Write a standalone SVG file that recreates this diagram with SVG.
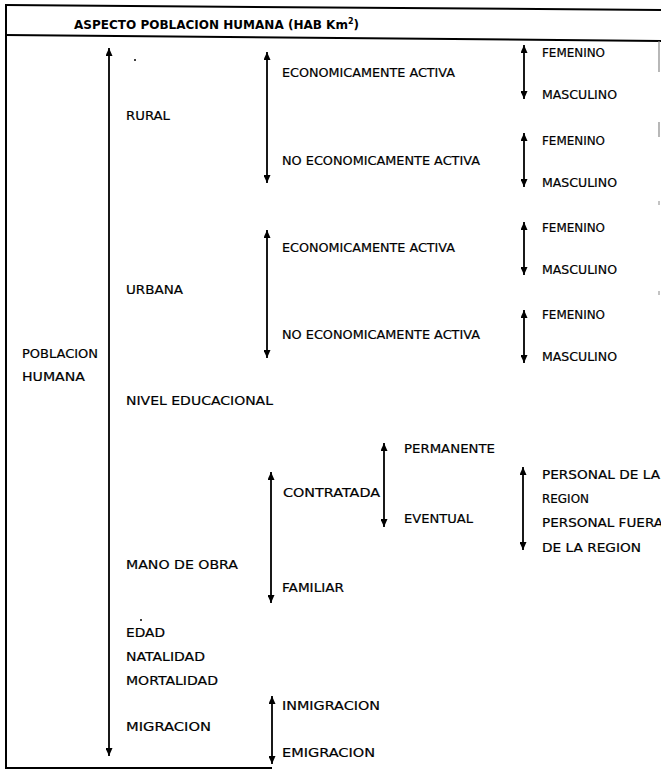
<svg xmlns="http://www.w3.org/2000/svg" width="661" height="773" viewBox="0 0 661 773">
<style>
.t{font-family:"DejaVu Sans","Liberation Sans",sans-serif;font-size:12px;fill:#000;stroke:#000;stroke-width:0.2}
.h{font-family:"DejaVu Sans","Liberation Sans",sans-serif;font-size:12px;font-weight:bold;fill:#000}
.a{stroke:#000;stroke-width:1.8;fill:none;marker-start:url(#ah);marker-end:url(#ah)}
.b{stroke:#000;stroke-width:2;fill:none}
</style>
<defs>
<marker id="ah" viewBox="0 0 8 7" refX="8" refY="3.5" markerWidth="8" markerHeight="7" markerUnits="userSpaceOnUse" orient="auto-start-reverse">
<path d="M0,0 L8,3.5 L0,7 z" fill="#000"/>
</marker>
</defs>
<rect width="661" height="773" fill="#fff"/>
<g id="frame">
<line class="b" x1="5" y1="5" x2="661" y2="10"/>
<line class="b" x1="5" y1="35" x2="661" y2="41"/>
<line class="b" x1="6" y1="5" x2="6" y2="769"/>
<line class="b" x1="5" y1="768" x2="272" y2="768"/>
<line x1="659" y1="41" x2="659" y2="72" stroke="#888" stroke-width="1.2"/>
<line x1="659" y1="122" x2="659" y2="137" stroke="#888" stroke-width="1.2"/>
<line x1="659" y1="201" x2="659" y2="205" stroke="#888" stroke-width="1"/>
<line x1="659" y1="291" x2="659" y2="295" stroke="#888" stroke-width="1"/>
<circle cx="135" cy="60" r="1" fill="#000"/>
<circle cx="141" cy="620" r="1" fill="#000"/>
</g>
<g id="title">
<text class="h" x="74" y="29" textLength="285" lengthAdjust="spacingAndGlyphs">ASPECTO POBLACION HUMANA (HAB Km<tspan dy="-5" style="font-size:8px">2</tspan><tspan dy="5">)</tspan></text>
</g>
<g id="connectors">
<line class="a" x1="109" y1="48" x2="109" y2="756"/>
<line class="a" x1="267" y1="52" x2="267" y2="183"/>
<line class="a" x1="267" y1="230" x2="267" y2="358"/>
<line class="a" x1="524" y1="45" x2="524" y2="99"/>
<line class="a" x1="524" y1="133" x2="524" y2="187"/>
<line class="a" x1="524" y1="222" x2="524" y2="275"/>
<line class="a" x1="524" y1="310" x2="524" y2="363"/>
<line class="a" x1="271" y1="472" x2="271" y2="603"/>
<line class="a" x1="384" y1="443" x2="384" y2="527"/>
<line class="a" x1="523" y1="467" x2="523" y2="550"/>
<line class="a" x1="272" y1="696" x2="272" y2="764"/>
</g>
<g id="n-poblacion"><text class="t" x="22" y="358" textLength="76" lengthAdjust="spacingAndGlyphs">POBLACION</text><text class="t" x="22" y="381" textLength="63" lengthAdjust="spacingAndGlyphs">HUMANA</text></g>
<g id="n-rural"><text class="t" x="126" y="120" textLength="44" lengthAdjust="spacingAndGlyphs">RURAL</text></g>
<g id="n-urbana"><text class="t" x="126" y="294" textLength="57" lengthAdjust="spacingAndGlyphs">URBANA</text></g>
<g id="n-nivel"><text class="t" x="126" y="405" textLength="147" lengthAdjust="spacingAndGlyphs">NIVEL EDUCACIONAL</text></g>
<g id="n-mano"><text class="t" x="126" y="569" textLength="112" lengthAdjust="spacingAndGlyphs">MANO DE OBRA</text></g>
<g id="n-edad"><text class="t" x="126" y="637" textLength="39" lengthAdjust="spacingAndGlyphs">EDAD</text></g>
<g id="n-natalidad"><text class="t" x="126" y="661" textLength="79" lengthAdjust="spacingAndGlyphs">NATALIDAD</text></g>
<g id="n-mortalidad"><text class="t" x="126" y="685" textLength="92" lengthAdjust="spacingAndGlyphs">MORTALIDAD</text></g>
<g id="n-migracion"><text class="t" x="126" y="731" textLength="85" lengthAdjust="spacingAndGlyphs">MIGRACION</text></g>
<g id="n-r-eca"><text class="t" x="282" y="77" textLength="173" lengthAdjust="spacingAndGlyphs">ECONOMICAMENTE ACTIVA</text></g>
<g id="n-r-neca"><text class="t" x="282" y="165" textLength="198" lengthAdjust="spacingAndGlyphs">NO ECONOMICAMENTE ACTIVA</text></g>
<g id="n-u-eca"><text class="t" x="282" y="252" textLength="173" lengthAdjust="spacingAndGlyphs">ECONOMICAMENTE ACTIVA</text></g>
<g id="n-u-neca"><text class="t" x="282" y="339" textLength="198" lengthAdjust="spacingAndGlyphs">NO ECONOMICAMENTE ACTIVA</text></g>
<g id="n-contratada"><text class="t" x="283" y="497" textLength="97" lengthAdjust="spacingAndGlyphs">CONTRATADA</text></g>
<g id="n-familiar"><text class="t" x="282" y="592" textLength="62" lengthAdjust="spacingAndGlyphs">FAMILIAR</text></g>
<g id="n-inmigracion"><text class="t" x="282" y="710" textLength="98" lengthAdjust="spacingAndGlyphs">INMIGRACION</text></g>
<g id="n-emigracion"><text class="t" x="282" y="757" textLength="93" lengthAdjust="spacingAndGlyphs">EMIGRACION</text></g>
<g id="n-permanente"><text class="t" x="404" y="453" textLength="91" lengthAdjust="spacingAndGlyphs">PERMANENTE</text></g>
<g id="n-eventual"><text class="t" x="404" y="523" textLength="69" lengthAdjust="spacingAndGlyphs">EVENTUAL</text></g>
<g id="n-fem1"><text class="t" x="542" y="57" textLength="63" lengthAdjust="spacingAndGlyphs">FEMENINO</text></g>
<g id="n-mas1"><text class="t" x="542" y="99" textLength="75" lengthAdjust="spacingAndGlyphs">MASCULINO</text></g>
<g id="n-fem2"><text class="t" x="542" y="145" textLength="63" lengthAdjust="spacingAndGlyphs">FEMENINO</text></g>
<g id="n-mas2"><text class="t" x="542" y="187" textLength="75" lengthAdjust="spacingAndGlyphs">MASCULINO</text></g>
<g id="n-fem3"><text class="t" x="542" y="232" textLength="63" lengthAdjust="spacingAndGlyphs">FEMENINO</text></g>
<g id="n-mas3"><text class="t" x="542" y="274" textLength="75" lengthAdjust="spacingAndGlyphs">MASCULINO</text></g>
<g id="n-fem4"><text class="t" x="542" y="319" textLength="63" lengthAdjust="spacingAndGlyphs">FEMENINO</text></g>
<g id="n-mas4"><text class="t" x="542" y="361" textLength="75" lengthAdjust="spacingAndGlyphs">MASCULINO</text></g>
<g id="n-personal-region"><text class="t" x="542" y="479" textLength="118" lengthAdjust="spacingAndGlyphs">PERSONAL DE LA</text><text class="t" x="542" y="503" textLength="47" lengthAdjust="spacingAndGlyphs">REGION</text></g>
<g id="n-personal-fuera"><text class="t" x="542" y="527" textLength="121" lengthAdjust="spacingAndGlyphs">PERSONAL FUERA</text><text class="t" x="542" y="552" textLength="99" lengthAdjust="spacingAndGlyphs">DE LA REGION</text></g>
</svg>
